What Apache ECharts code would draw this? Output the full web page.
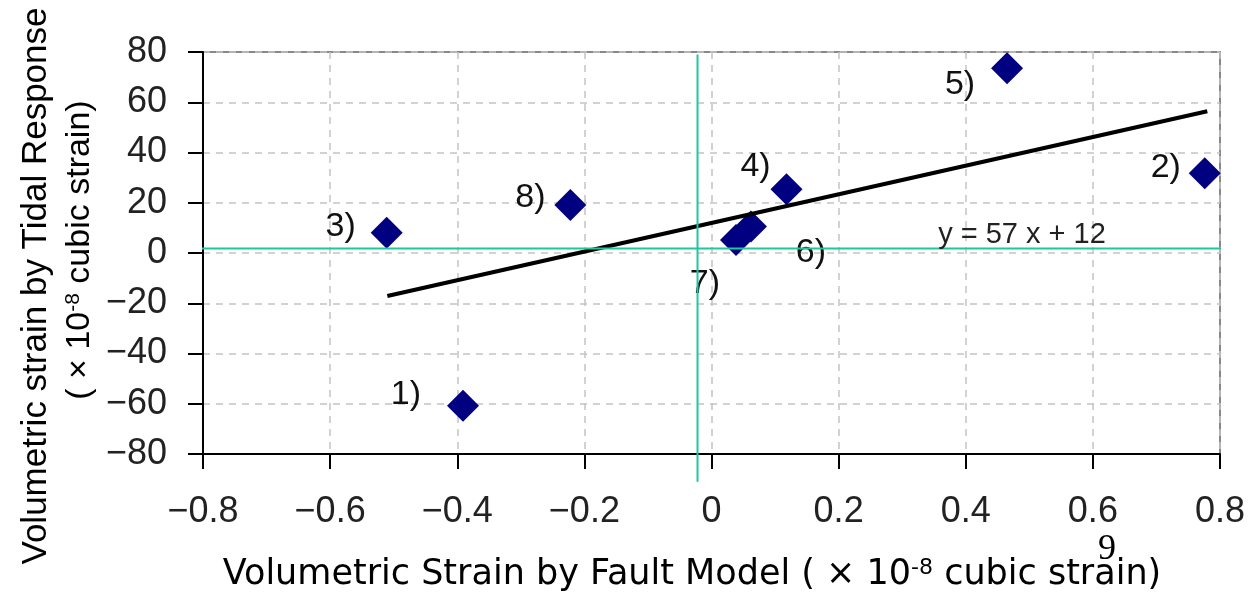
<!DOCTYPE html>
<html>
<head>
<meta charset="utf-8">
<script src="https://cdn.jsdelivr.net/npm/echarts@6/dist/echarts.min.js"></script>
<style>
html,body{margin:0;padding:0;background:#fff;}
#c{width:1252px;height:597px;}
</style>
</head>
<body>
<div id="c"></div>
<script>
// ---- data ----
const pointLabels = ['1)', '2)', '3)', '4)', '5)', '6)', '7)', '8)'];
const pointX = [-0.391, 0.776, -0.511, 0.118, 0.465, 0.062, 0.0385, -0.222];
const pointY = [-60.8, 31.7, 8.1, 25.4, 73.5, 10.5, 5.2, 19.1];
const trendX = [-0.51, 0.78];
const trendY = [-17.1, 56.4];
const refLineX = -0.022;   // vertical reference line (x value)
const refLineY = 1.8;      // horizontal reference line (y value)
const refVSpan = [79, -91];
const refHSpan = [-0.835, 0.815];
const xTicks = [-0.8, -0.6, -0.4, -0.2, 0, 0.2, 0.4, 0.6, 0.8];
const yTicks = [-80, -60, -40, -20, 0, 20, 40, 60, 80];
const equationText = 'y = 57 x + 12';
const xTitle = ['Volumetric Strain by Fault Model ( × 10', '-8', ' cubic strain)'];
const yTitle1 = 'Volumetric strain by Tidal Response';
const yTitle2 = ['( × 10', '-8', ' cubic strain)'];
const pageNumber = '9';

// ---- styles (label offsets in px, not data) ----
const labelOffsets = [[-57,-11],[-39,-6],[-46,-6],[-31,-23],[-47,16],[60,26],[-31,44],[-40,-7]];

const fmt = v => {
  let s = String(Math.round(v * 10) / 10);
  return s.replace('-', '\u2212');
};

const scatterData = pointX.map((x, i) => ({
  value: [x, pointY[i]],
  label: { show: true, formatter: pointLabels[i], position: 'inside', offset: labelOffsets[i] }
}));

const chart = echarts.init(document.getElementById('c'), null, { renderer: 'canvas' });
const tickFont = { fontFamily: 'Liberation Sans, Arial, sans-serif', fontSize: 36, color: '#222' };

chart.setOption({
  backgroundColor: '#fff',
  animation: false,
  grid: { left: 203, right: 32, top: 52, bottom: 143, show: true, borderColor: '#888', borderWidth: 2, backgroundColor: 'transparent' },
  xAxis: {
    type: 'value', min: xTicks[0], max: xTicks[xTicks.length - 1], interval: 0.2,
    axisLine: { show: true, onZero: false, lineStyle: { color: '#000', width: 2 } },
    axisTick: { show: true, length: 15, lineStyle: { color: '#000', width: 2 } },
    axisLabel: Object.assign({ margin: 40, formatter: fmt }, tickFont),
    splitLine: { show: true, lineStyle: { color: '#c4c4c4', type: [7, 6], width: 1.5 } }
  },
  yAxis: {
    type: 'value', min: yTicks[0], max: yTicks[yTicks.length - 1], interval: 20,
    axisLine: { show: true, onZero: false, lineStyle: { color: '#000', width: 2 } },
    axisTick: { show: true, length: 15, lineStyle: { color: '#000', width: 2 } },
    axisLabel: Object.assign({ margin: 36, formatter: fmt }, tickFont),
    splitLine: { show: true, lineStyle: { color: '#c4c4c4', type: [7, 6], width: 1.5 } }
  },
  series: [
    {
      type: 'scatter', symbol: 'diamond', symbolSize: 32, z: 2,
      itemStyle: { color: '#000080', opacity: 1 },
      label: { color: '#111', fontSize: 34, fontFamily: 'Liberation Sans, Arial, sans-serif', align: 'center', verticalAlign: 'middle' },
      data: scatterData
    },
    {
      type: 'line', z: 3, symbol: 'none', silent: true,
      lineStyle: { color: '#000', width: 4 },
      data: trendX.map((x, i) => [x, trendY[i]])
    },
    {
      type: 'line', z: 4, symbol: 'none', silent: true, clip: false,
      lineStyle: { color: '#1fc79f', width: 2 },
      data: refVSpan.map(y => [refLineX, y])
    },
    {
      type: 'line', z: 4, symbol: 'none', silent: true, clip: false,
      lineStyle: { color: '#1fc79f', width: 2 },
      data: refHSpan.map(x => [x, refLineY])
    }
  ],
  graphic: [
    {
      type: 'text', x: 1022, y: 235, z: 10,
      style: { text: equationText, fontSize: 29, fontFamily: 'Liberation Sans, Arial, sans-serif', fill: '#222', align: 'center', verticalAlign: 'middle' }
    },
    {
      type: 'text', x: 692, y: 575, z: 10,
      style: {
        text: xTitle[0] + '{sup|' + xTitle[1] + '}' + xTitle[2],
        fontSize: 35, fontFamily: 'DejaVu Sans, sans-serif', fill: '#000', align: 'center', verticalAlign: 'middle',
        rich: { sup: { fontSize: 22, fontFamily: 'DejaVu Sans, sans-serif', fill: '#000', verticalAlign: 'top', lineHeight: 24 } }
      }
    },
    {
      type: 'text', x: 36, y: 286, rotation: Math.PI / 2, z: 10,
      style: { text: yTitle1, fontSize: 35, fontFamily: 'Liberation Sans, Arial, sans-serif', fill: '#000', align: 'center', verticalAlign: 'middle' }
    },
    {
      type: 'text', x: 80, y: 250, rotation: Math.PI / 2, z: 10,
      style: {
        text: yTitle2[0] + '{sup|' + yTitle2[1] + '}' + yTitle2[2],
        fontSize: 34, fontFamily: 'Liberation Sans, Arial, sans-serif', fill: '#000', align: 'center', verticalAlign: 'middle',
        rich: { sup: { fontSize: 21, fontFamily: 'Liberation Sans, Arial, sans-serif', fill: '#000', verticalAlign: 'top', lineHeight: 22 } }
      }
    },
    {
      type: 'text', x: 1107, y: 550, z: 11,
      style: { text: pageNumber, fontSize: 36, fontFamily: 'Liberation Serif, Times New Roman, serif', fill: '#000', align: 'center', verticalAlign: 'middle' }
    }
  ]
});
</script>
</body>
</html>
